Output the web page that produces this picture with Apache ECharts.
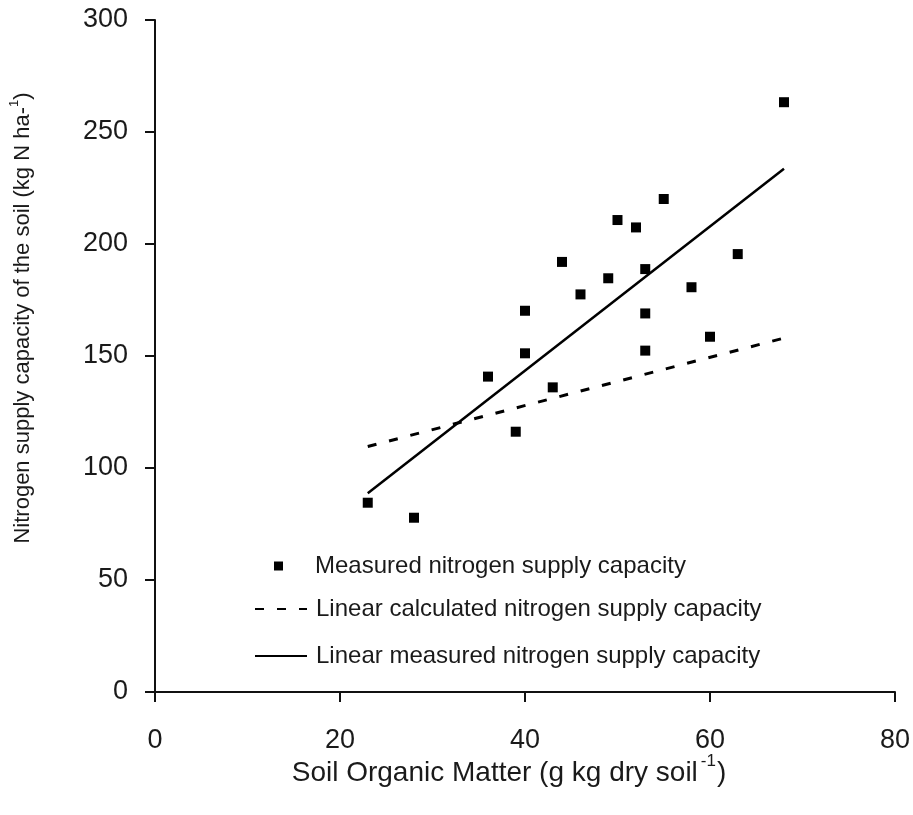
<!DOCTYPE html>
<html>
<head>
<meta charset="utf-8">
<script src="https://cdn.jsdelivr.net/npm/echarts@6/dist/echarts.min.js"></script>
<style>
html,body{margin:0;padding:0;background:#fff;}
#chart{width:913px;height:815px;}
</style>
</head>
<body>
<div id="chart"></div>
<script>
// Measured points: soil organic matter (g/kg) and N supply capacity (kg N/ha)
const measuredX = [23, 28, 36, 39, 40, 40, 43, 44, 46, 49, 50, 52, 53, 53, 53, 55, 58, 60, 63, 68];
const measuredY = [84.5, 77.8, 140.8, 116.2, 170.2, 151.2, 136.0, 192.0, 177.5, 184.7, 210.7, 207.4, 188.8, 169.0, 152.4, 220.1, 180.7, 158.6, 195.5, 263.3];

// Linear fit endpoints
const calcLineX = [23, 68];
const calcLineY = [109.6, 158.0];
const measLineX = [23, 68];
const measLineY = [88.7, 233.6];

const xTicks = [0, 20, 40, 60, 80];
const yTicks = [0, 50, 100, 150, 200, 250, 300];

const seriesNames = [
  'Measured nitrogen supply capacity',
  'Linear calculated nitrogen supply capacity',
  'Linear measured nitrogen supply capacity'
];

const pair = (xs, ys) => xs.map((x, i) => [x, ys[i]]);

const FONT = '"Liberation Sans", Arial, sans-serif';
const TXT = '#1a1a1a';
const LEGEND_FONT = 24;

const chart = echarts.init(document.getElementById('chart'), null, {renderer: 'canvas'});
chart.setOption({
  animation: false,
  backgroundColor: '#ffffff',
  textStyle: {fontFamily: FONT, color: TXT},
  grid: {left: 154, right: 16, top: 20, bottom: 123, containLabel: false},
  legend: [
    {
      orient: 'vertical',
      left: 269,
      top: 549,
      itemWidth: 9,
      itemHeight: 9,
      data: [{name: seriesNames[0], icon: 'rect', itemStyle: {color: '#000', opacity: 1}}],
      textStyle: {fontFamily: FONT, fontSize: LEGEND_FONT, color: TXT, padding: [0, 0, 0, 27]}
    },
    {
      orient: 'vertical',
      left: 249,
      top: 592,
      itemWidth: 52,
      itemHeight: 8,
      itemGap: 23,
      data: [
        {name: seriesNames[1], itemStyle: {color: 'rgba(0,0,0,0)', borderWidth: 0}},
        {name: seriesNames[2], itemStyle: {color: 'rgba(0,0,0,0)', borderWidth: 0}}
      ],
      textStyle: {fontFamily: FONT, fontSize: LEGEND_FONT, color: TXT, padding: [0, 0, 0, 4]}
    }
  ],
  xAxis: {
    type: 'value',
    min: xTicks[0],
    max: xTicks[xTicks.length - 1],
    interval: 20,
    name: '{n|Soil Organic Matter (g kg dry soil}{s|-1}{n|)}',
    nameLocation: 'middle',
    nameGap: 61,
    nameMoveOverlap: false,
    nameTextStyle: {
      padding: [0, 32, 0, 0],
      rich: {
        n: {fontFamily: FONT, fontSize: 28, color: TXT, lineHeight: 34, verticalAlign: 'bottom'},
        s: {fontFamily: FONT, fontSize: 17, color: TXT, lineHeight: 34, verticalAlign: 'top', padding: [0, 1, 0, 3]}
      }
    },
    axisLine: {lineStyle: {color: '#111', width: 2}},
    axisTick: {show: true, inside: false, length: 10, lineStyle: {color: '#111', width: 2}},
    axisLabel: {fontFamily: FONT, fontSize: 27, color: TXT, margin: 35},
    splitLine: {show: false}
  },
  yAxis: {
    type: 'value',
    min: yTicks[0],
    max: yTicks[yTicks.length - 1],
    interval: 50,
    name: '{n|Nitrogen supply capacity of the soil (kg N ha-}{s|1}{n|)}',
    nameLocation: 'middle',
    nameGap: 121,
    nameMoveOverlap: false,
    nameRotate: 90,
    nameTextStyle: {
      padding: [0, 0, 0, 76],
      rich: {
        n: {fontFamily: FONT, fontSize: 22, color: TXT, lineHeight: 26, verticalAlign: 'bottom'},
        s: {fontFamily: FONT, fontSize: 13, color: TXT, lineHeight: 26, verticalAlign: 'top'}
      }
    },
    axisLine: {show: true, lineStyle: {color: '#111', width: 2}},
    axisTick: {show: true, inside: false, length: 10, lineStyle: {color: '#111', width: 2}},
    axisLabel: {fontFamily: FONT, fontSize: 27, color: TXT, margin: 27},
    splitLine: {show: false}
  },
  series: [
    {
      name: seriesNames[0],
      type: 'scatter',
      symbol: 'rect',
      symbolSize: 10,
      itemStyle: {color: '#000', opacity: 1},
      data: pair(measuredX, measuredY),
      z: 5
    },
    {
      name: seriesNames[1],
      type: 'line',
      symbol: 'none',
      lineStyle: {color: '#000', width: 3, type: [9, 13]},
      itemStyle: {color: '#000'},
      data: pair(calcLineX, calcLineY)
    },
    {
      name: seriesNames[2],
      type: 'line',
      symbol: 'none',
      lineStyle: {color: '#000', width: 2.5, type: 'solid'},
      itemStyle: {color: '#000'},
      data: pair(measLineX, measLineY)
    }
  ]
});
</script>
</body>
</html>
